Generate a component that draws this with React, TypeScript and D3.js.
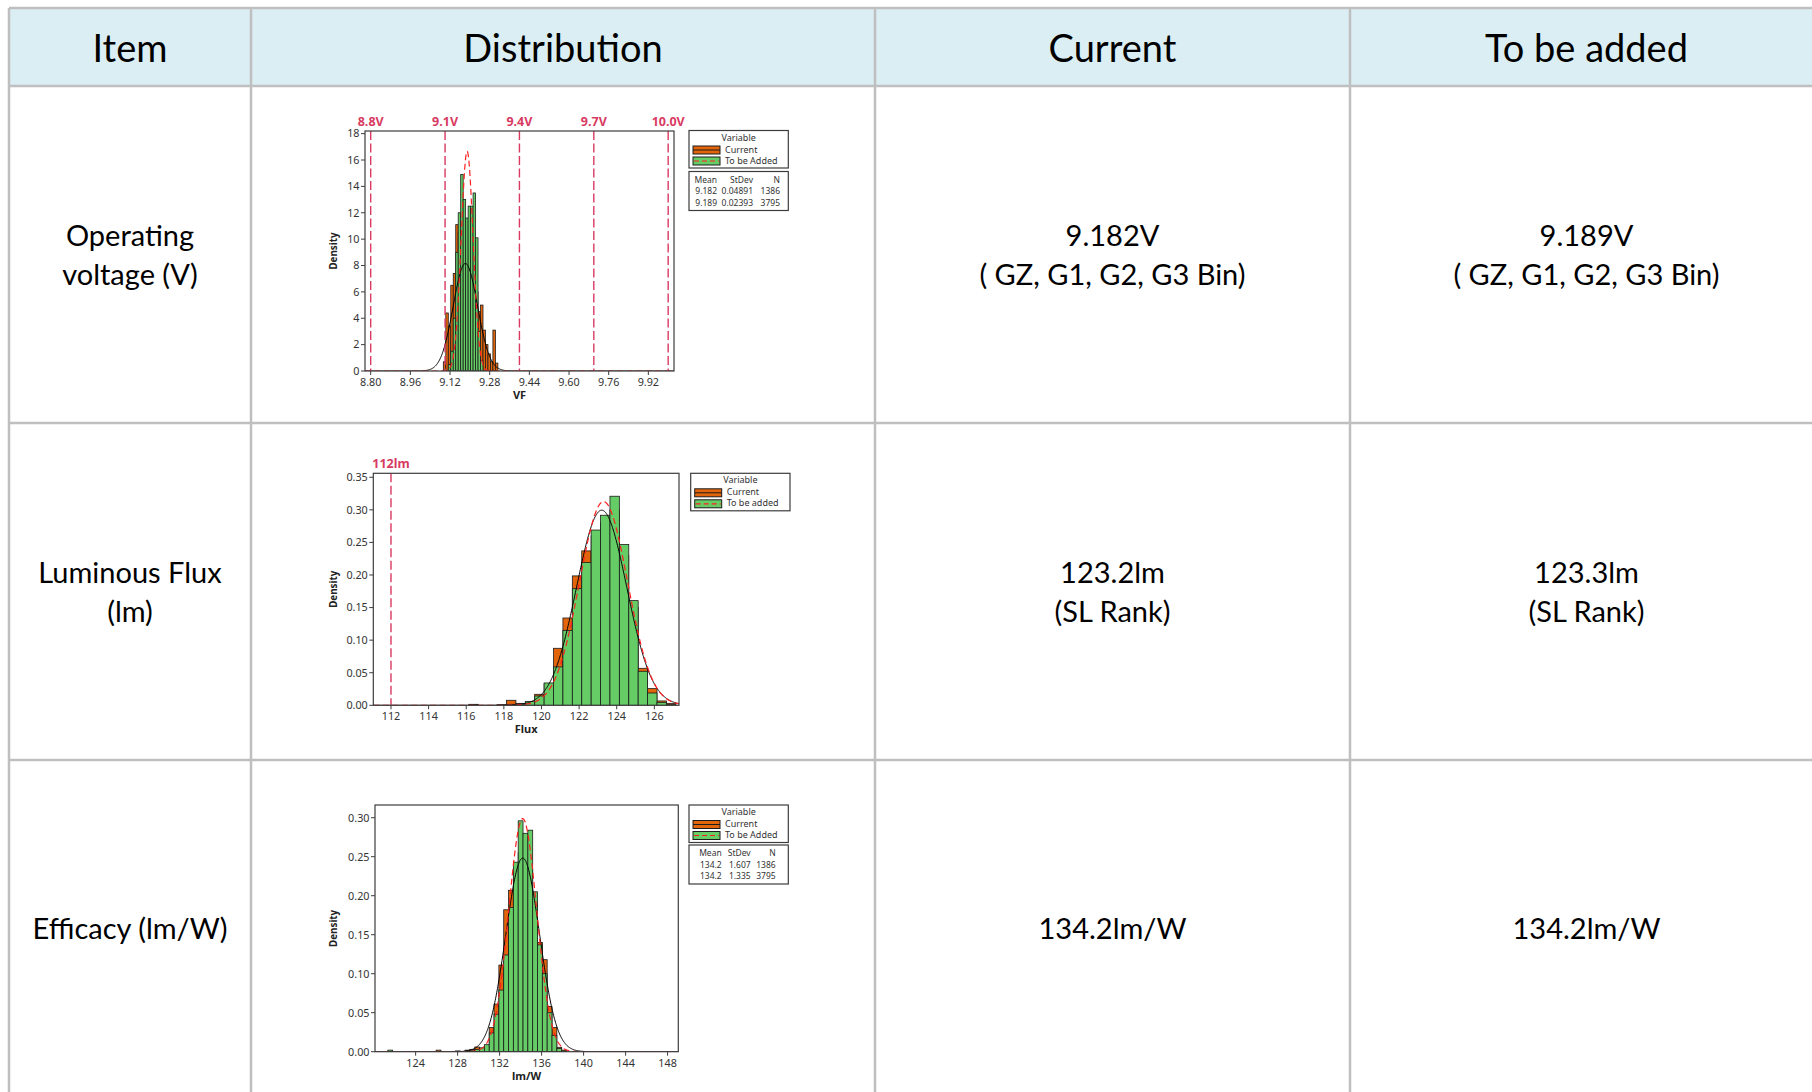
import React from 'react';
import * as d3 from 'd3';

// ---------------- Table data ----------------
const headers = ['Item', 'Distribution', 'Current', 'To be added'];
const itemLabels = [['Operating', 'voltage (V)'], ['Luminous Flux', '(lm)'], ['Efficacy (lm/W)']];
const currentLabels = [['9.182V', '( GZ, G1, G2, G3 Bin)'], ['123.2lm', '(SL Rank)'], ['134.2lm/W']];
const addedLabels = [['9.189V', '( GZ, G1, G2, G3 Bin)'], ['123.3lm', '(SL Rank)'], ['134.2lm/W']];

// ---------------- Chart 1: VF ----------------
const vfBinStart = 9.093;
const vfBinWidth = 0.01;
const vfCurrent = [0.7, 4.4, 3.4, 6.5, 7.4, 11.1, 10.5, 10, 9.5, 9, 8.5, 8, 7, 6, 4.5, 5.0, 3.1, 2.0, 1.3, 0.7, 3.1, 0.6];
const vfAdded = [0, 0, 0.5, 1.5, 4.0, 9.0, 12.0, 14.9, 13.0, 11.6, 12.5, 12.5, 13.5, 10.1, 3.0, 0.8, 0, 0, 0, 0, 0, 0];
const vfFit = [{ mean: 9.182, sd: 0.04891 }, { mean: 9.189, sd: 0.02393 }];
const vfStats = [['9.182', '0.04891', '1386'], ['9.189', '0.02393', '3795']];
const vfSpecs = [8.8, 9.1, 9.4, 9.7, 10.0];
const vfSpecLabels = ['8.8V', '9.1V', '9.4V', '9.7V', '10.0V'];
const vfXTicks = [8.8, 8.96, 9.12, 9.28, 9.44, 9.6, 9.76, 9.92];
const vfYTicks = [0, 2, 4, 6, 8, 10, 12, 14, 16, 18];

// ---------------- Chart 2: Flux ----------------
const fluxBinStart = 116.14;
const fluxBinWidth = 0.5;
const fluxCurrent = [0.0015, 0, 0, 0.0007, 0.0077, 0.003, 0.004, 0.0169, 0.033, 0.0875, 0.134, 0.1986, 0.237, 0.26, 0.28, 0.30, 0.23, 0.15, 0.0568, 0.0256, 0.0067, 0.003];
const fluxAdded = [0, 0, 0, 0.0007, 0.0015, 0.002, 0.006, 0.0143, 0.0343, 0.0589, 0.115, 0.179, 0.219, 0.269, 0.2917, 0.3209, 0.2467, 0.1607, 0.0522, 0.0189, 0.0045, 0.001];
const fluxFit = [{ mean: 123.2, sd: 1.332 }, { mean: 123.3, sd: 1.276 }];
const fluxSpecs = [112];
const fluxSpecLabels = ['112lm'];
const fluxXTicks = [112, 114, 116, 118, 120, 122, 124, 126];
const fluxYTicks = [0, 0.05, 0.1, 0.15, 0.2, 0.25, 0.3, 0.35];

// ---------------- Chart 3: Efficacy ----------------
const effBinStart = 121.35;
const effBinWidth = 0.46;
const effCurrent = [0, 0, 0, 0, 0, 0, 0, 0, 0, 0, 0.002, 0, 0, 0, 0, 0, 0.002, 0.003, 0.006, 0.004, 0.006, 0.031, 0.061, 0.111, 0.182, 0.207, 0.235, 0.255, 0.24, 0.235, 0.19, 0.14, 0.118, 0.058, 0.031, 0.0056, 0.002];
const effAdded = [0.002, 0, 0, 0, 0, 0, 0, 0, 0, 0, 0, 0, 0, 0, 0.001, 0, 0.001, 0.002, 0.003, 0.005, 0.009, 0.024, 0.048, 0.079, 0.124, 0.185, 0.243, 0.296, 0.28, 0.284, 0.205, 0.137, 0.10, 0.05, 0.021, 0.004, 0.001];
const effFit = [{ mean: 134.2, sd: 1.607 }, { mean: 134.2, sd: 1.335 }];
const effStats = [['134.2', '1.607', '1386'], ['134.2', '1.335', '3795']];
const effXTicks = [124, 128, 132, 136, 140, 144, 148];
const effYTicks = [0, 0.05, 0.1, 0.15, 0.2, 0.25, 0.3];

// ---------------- Styles ----------------
const TABLE_FONT = "Lato, 'Noto Sans', sans-serif";
const CHART_FONT = "'Noto Sans', 'Open Sans', sans-serif";
const ORANGE = '#e2650c';
const GREEN = '#66cc66';
const SPEC = '#d83a62';
const FITRED = '#ff2020';
const BORDER = '#bfbfbf';
const HEADER_FILL = '#daeef3';

const colX = [9, 251, 875, 1350, 1823];
const rowY = [8, 86, 423, 760, 1097];

type Stat = string[];
interface ChartCfg {
  id: string;
  left: number; right: number; top: number; bottom: number;
  xDomain: [number, number]; yDomain: [number, number];
  xTicks: number[]; yTicks: number[];
  xFmt: (n: number) => string; yFmt: (n: number) => string;
  xTitle: string;
  binStart: number; binWidth: number; current: number[]; added: number[];
  fit: { mean: number; sd: number }[];
  specs: number[]; specLabels: string[];
  legendX: number; legendTop: number; addedLabel: string;
  stats?: Stat[]; statsTop?: number; statCols?: number[];
}

const charts: ChartCfg[] = [
  {
    id: 'vf', left: 365, right: 674, top: 131, bottom: 371,
    xDomain: [8.777, 10.0235], yDomain: [0, 18.2],
    xTicks: vfXTicks, yTicks: vfYTicks, xFmt: d3.format('.2f'), yFmt: d3.format('d'),
    xTitle: 'VF', binStart: vfBinStart, binWidth: vfBinWidth, current: vfCurrent, added: vfAdded,
    fit: vfFit, specs: vfSpecs, specLabels: vfSpecLabels,
    legendX: 689, legendTop: 130.5, addedLabel: 'To be Added',
    stats: vfStats, statsTop: 171.5, statCols: [717, 753, 780],
  },
  {
    id: 'flux', left: 373.3, right: 679, top: 473.3, bottom: 705.3,
    xDomain: [111.06, 127.31], yDomain: [0, 0.3561],
    xTicks: fluxXTicks, yTicks: fluxYTicks, xFmt: d3.format('d'), yFmt: d3.format('.2f'),
    xTitle: 'Flux', binStart: fluxBinStart, binWidth: fluxBinWidth, current: fluxCurrent, added: fluxAdded,
    fit: fluxFit, specs: fluxSpecs, specLabels: fluxSpecLabels,
    legendX: 690.7, legendTop: 473.3, addedLabel: 'To be added',
  },
  {
    id: 'eff', left: 375, right: 678.3, top: 805, bottom: 1051.7,
    xDomain: [120.13, 149.02], yDomain: [0, 0.3163],
    xTicks: effXTicks, yTicks: effYTicks, xFmt: d3.format('d'), yFmt: d3.format('.2f'),
    xTitle: 'lm/W', binStart: effBinStart, binWidth: effBinWidth, current: effCurrent, added: effAdded,
    fit: effFit, specs: [], specLabels: [],
    legendX: 689, legendTop: 805, addedLabel: 'To be Added',
    stats: effStats, statsTop: 845, statCols: [721.7, 750.7, 775.7],
  },
];

const normalPdf = (m: number, s: number) => (v: number) =>
  Math.exp(-0.5 * ((v - m) / s) ** 2) / (s * Math.sqrt(2 * Math.PI));

function Histogram({ c }: { c: ChartCfg }) {
  const x = d3.scaleLinear().domain(c.xDomain).range([c.left, c.right]);
  const y = d3.scaleLinear().domain(c.yDomain).range([c.bottom, c.top]);
  const clipId = `clip-${c.id}`;
  const bars = (vals: number[], fill: string) =>
    vals.map((v, i) => {
      if (!v) return null;
      const x0 = c.binStart + i * c.binWidth;
      const x1 = x0 + c.binWidth;
      return (
        <rect key={i} x={x(x0)} y={y(v)} width={x(x1) - x(x0)} height={y(0) - y(v)}
          fill={fill} stroke="#1c1c1c" strokeWidth={0.8} />
      );
    });
  const samples = d3.range(0, 801).map((i) => c.xDomain[0] + ((c.xDomain[1] - c.xDomain[0]) * i) / 800);
  const curve = (f: (v: number) => number) =>
    d3.line<number>().x((v) => x(v)).y((v) => y(f(v)))(samples) || '';
  const midY = (c.top + c.bottom) / 2;
  const lx = c.legendX;
  const lw = 99.3;
  const lt = c.legendTop;
  return (
    <g fontFamily={CHART_FONT}>
      <defs>
        <clipPath id={clipId}>
          <rect x={c.left} y={c.top} width={c.right - c.left} height={c.bottom - c.top} />
        </clipPath>
      </defs>
      <g clipPath={`url(#${clipId})`}>
        {bars(c.current, ORANGE)}
        {bars(c.added, GREEN)}
        <path d={curve(normalPdf(c.fit[0].mean, c.fit[0].sd))} fill="none" stroke="#000" strokeWidth={1} />
        <path d={curve(normalPdf(c.fit[1].mean, c.fit[1].sd))} fill="none" stroke={FITRED} strokeWidth={1.2} strokeDasharray="6,3.5" />
        {c.specs.map((s, i) => (
          <line key={i} x1={x(s)} x2={x(s)} y1={c.top} y2={c.bottom} stroke={SPEC} strokeWidth={1.4} strokeDasharray="9,3.5" />
        ))}
      </g>
      {c.specs.map((s, i) => (
        <text key={i} x={x(s)} y={c.top - 5} textAnchor="middle" fontSize={12.5} fontWeight="bold" fill={SPEC}>
          {c.specLabels[i]}
        </text>
      ))}
      <rect x={c.left} y={c.top} width={c.right - c.left} height={c.bottom - c.top} fill="none" stroke="#3c3c3c" strokeWidth={1.2} />
      {c.yTicks.map((t, i) => (
        <g key={i}>
          <line x1={c.left - 4} x2={c.left} y1={y(t)} y2={y(t)} stroke="#3c3c3c" strokeWidth={1} />
          <text x={c.left - 5.5} y={y(t) + 3.8} textAnchor="end" fontSize={10.8} fill="#333">{c.yFmt(t)}</text>
        </g>
      ))}
      {c.xTicks.map((t, i) => (
        <g key={i}>
          <line x1={x(t)} x2={x(t)} y1={c.bottom} y2={c.bottom + 4} stroke="#3c3c3c" strokeWidth={1} />
          <text x={x(t)} y={c.bottom + 15} textAnchor="middle" fontSize={10.8} fill="#333">{c.xFmt(t)}</text>
        </g>
      ))}
      <text x={(c.left + c.right) / 2} y={c.bottom + 28} textAnchor="middle" fontSize={11} fontWeight="bold" fill="#222">{c.xTitle}</text>
      <text transform={`translate(337,${midY}) rotate(-90)`} textAnchor="middle" fontSize={9.8} fontWeight="bold" fill="#222">Density</text>
      {/* Legend */}
      <rect x={lx} y={lt} width={lw} height={37.5} fill="#fff" stroke="#3c3c3c" strokeWidth={1.2} />
      <text x={lx + lw / 2} y={lt + 10} textAnchor="middle" fontSize={9} fill="#333">Variable</text>
      <rect x={lx + 4} y={lt + 15.5} width={27} height={8} fill={ORANGE} stroke="#1c1c1c" strokeWidth={1} />
      <line x1={lx + 4} x2={lx + 31} y1={lt + 19.5} y2={lt + 19.5} stroke="#1c1c1c" strokeWidth={1} />
      <text x={lx + 36} y={lt + 22} fontSize={9} fill="#333">Current</text>
      <rect x={lx + 4} y={lt + 26.5} width={27} height={8} fill={GREEN} stroke="#1c1c1c" strokeWidth={1} />
      <line x1={lx + 5} x2={lx + 30} y1={lt + 30.5} y2={lt + 30.5} stroke={FITRED} strokeWidth={1.2} strokeDasharray="5,3" />
      <text x={lx + 36} y={lt + 33} fontSize={9} fill="#333">{c.addedLabel}</text>
      {c.stats && c.statsTop !== undefined && c.statCols && (
        <g>
          <rect x={lx} y={c.statsTop} width={lw} height={39} fill="#fff" stroke="#3c3c3c" strokeWidth={1.2} />
          {['Mean', 'StDev', 'N'].map((h, i) => (
            <text key={h} x={c.statCols![i]} y={c.statsTop! + 11} textAnchor="end" fontSize={8.5} fill="#333">{h}</text>
          ))}
          {c.stats.map((row, r) =>
            row.map((v, i) => (
              <text key={`${r}-${i}`} x={c.statCols![i]} y={c.statsTop! + 22.5 + r * 11.5} textAnchor="end" fontSize={8.5} fill="#333">{v}</text>
            ))
          )}
        </g>
      )}
    </g>
  );
}

function Table() {
  const colCenter = (i: number) => (colX[i] + colX[i + 1]) / 2;
  const rowCenter = (r: number) => (rowY[r + 1] + rowY[r + 2]) / 2;
  const cellText = (lines: string[], cx: number, cy: number, key: string) => {
    const baselines = lines.length === 2 ? [cy - 9, cy + 30] : [cy + 10.5];
    return lines.map((t, i) => (
      <text key={`${key}-${i}`} x={cx} y={baselines[i]} textAnchor="middle" fontSize={29} fill="#000">{t}</text>
    ));
  };
  return (
    <g fontFamily={TABLE_FONT}>
      <rect x={colX[0]} y={rowY[0]} width={colX[4] - colX[0]} height={rowY[1] - rowY[0]} fill={HEADER_FILL} />
      {headers.map((h, i) => (
        <text key={h} x={colCenter(i)} y={62} textAnchor="middle" fontSize={38} fill="#000">{h}</text>
      ))}
      {itemLabels.map((l, r) => cellText(l, colCenter(0), rowCenter(r), `i${r}`))}
      {currentLabels.map((l, r) => cellText(l, colCenter(2), rowCenter(r), `c${r}`))}
      {addedLabels.map((l, r) => cellText(l, colCenter(3), rowCenter(r), `a${r}`))}
      {rowY.map((yy, i) => (
        <line key={`h${i}`} x1={colX[0]} x2={colX[4]} y1={yy} y2={yy} stroke={BORDER} strokeWidth={2.5} />
      ))}
      {colX.map((xx, i) => (
        <line key={`v${i}`} x1={xx} x2={xx} y1={rowY[0]} y2={rowY[4]} stroke={BORDER} strokeWidth={2.5} />
      ))}
    </g>
  );
}

export default function App() {
  React.useEffect(() => {
    document.body.style.margin = '0';
    document.body.style.overflow = 'hidden';
  }, []);
  return (
    <svg width={1812} height={1092} viewBox="0 0 1812 1092"
      style={{ position: 'absolute', left: 0, top: 0, display: 'block', background: '#fff' }}>
      <rect x={0} y={0} width={1812} height={1092} fill="#fff" />
      <Table />
      {charts.map((c) => (
        <Histogram key={c.id} c={c} />
      ))}
    </svg>
  );
}
